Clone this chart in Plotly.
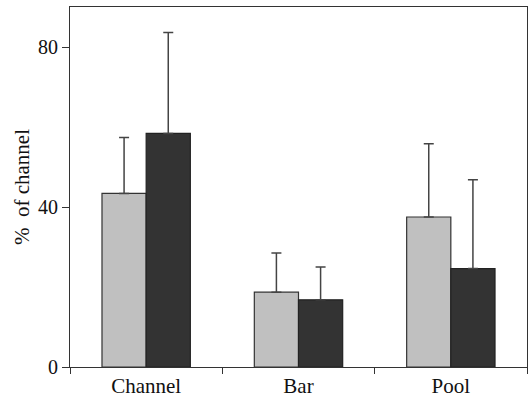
import plotly.graph_objects as go

categories = ["Channel", "Bar", "Pool"]
light_values = [43.4, 18.7, 37.5]
light_err_top = [57.4, 28.5, 55.8]
dark_values = [58.4, 16.8, 24.6]
dark_err_top = [83.6, 25.0, 46.8]
y_ticks = [0, 40, 80]

light_err = [t - v for t, v in zip(light_err_top, light_values)]
dark_err = [t - v for t, v in zip(dark_err_top, dark_values)]

font_family = "Liberation Serif"
text_color = "#111111"

fig = go.Figure()
fig.add_trace(go.Bar(
    x=categories, y=light_values,
    marker=dict(color="#c0c0c0", line=dict(color="#333333", width=1.2)),
    error_y=dict(type="data", array=light_err, arrayminus=[0]*3, symmetric=False,
                 color="#444444", thickness=1.5, width=5),
    showlegend=False,
))
fig.add_trace(go.Bar(
    x=categories, y=dark_values,
    marker=dict(color="#333333", line=dict(color="#222222", width=1.2)),
    error_y=dict(type="data", array=dark_err, arrayminus=[0]*3, symmetric=False,
                 color="#444444", thickness=1.5, width=5),
    showlegend=False,
))

fig.update_layout(
    width=528, height=398,
    margin=dict(l=70, r=1, t=7, b=31),
    barmode="group", bargap=0.42, bargroupgap=0,
    plot_bgcolor="white", paper_bgcolor="white",
    font=dict(family=font_family, size=20, color=text_color),
)
fig.update_xaxes(
    automargin=False,
    showline=True, linecolor="#333333", linewidth=1.2, mirror=True,
    ticks="outside", tickson="boundaries", ticklen=6, tickcolor="#333333", tickwidth=1.2,
    showgrid=False, tickfont=dict(size=21, family=font_family, color=text_color),
)
fig.update_yaxes(
    automargin=False,
    range=[0, 90], tickvals=y_ticks, ticktext=[str(v) for v in y_ticks],
    showline=True, linecolor="#333333", linewidth=1.2, mirror=True,
    ticks="outside", ticklen=7, tickcolor="#333333", tickwidth=1.2,
    showgrid=False, zeroline=False,
    tickfont=dict(size=20, family=font_family, color=text_color),
    title=dict(text="%  of channel", font=dict(size=21, family=font_family, color=text_color), standoff=2),
)

fig.write_html(
    "out.html",
    config={"responsive": False, "displayModeBar": False},
    post_script="document.body.style.margin='0';document.body.style.overflow='hidden';",
)
